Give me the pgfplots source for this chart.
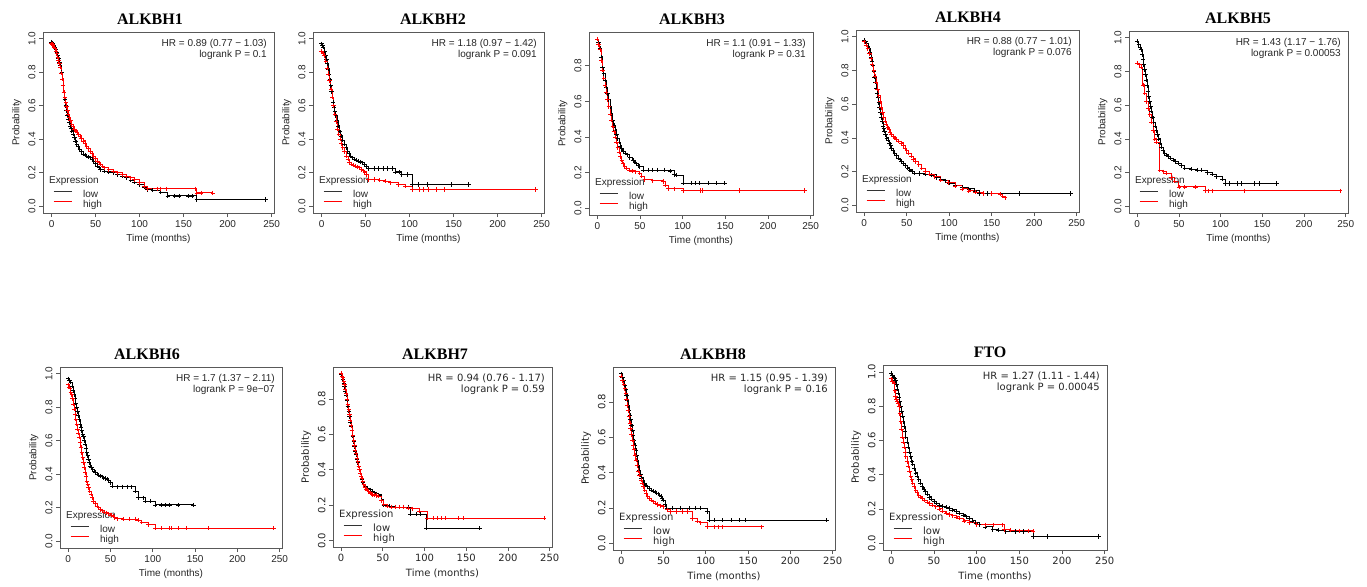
\documentclass[border=0pt]{standalone}
\usepackage{fontspec}
\setmainfont{Liberation Sans}
\newfontfamily\serifb{Liberation Serif}
\newfontfamily\dvs{DejaVu Sans}
\usepackage{pgfplots}
\pgfplotsset{compat=1.18}
\definecolor{kmred}{RGB}{255,0,0}
\pgfplotsset{
  km/.style={
    scale only axis, anchor=south west,
    xmin=-9.72, xmax=252.72, ymin=-0.04, ymax=1.04,
    axis line style={black!65, line width=0.8pt},
    tick style={black!65, line width=0.7pt},
    major tick length=4pt, tick align=outside, tick pos=left,
    xtick={0,50,100,150,200,250},
    ytick={0,0.2,0.4,0.6,0.8,1.0},
    /pgf/number format/assume math mode=true,
    yticklabel style={rotate=90, anchor=south, /pgf/number format/fixed, /pgf/number format/fixed zerofill, /pgf/number format/precision=1},
    ticklabel style={font=\fontsize{10}{11}\selectfont, text=black!85},
    xlabel={Time (months)}, ylabel={Probability},
    label style={font=\fontsize{10}{11}\selectfont, text=black!85},
    title style={font=\serifb\bfseries\fontsize{16}{18}\selectfont, anchor=base, yshift=1.5pt},
    legend style={at={(axis description cs:0,0)}, anchor=south west, xshift=10pt, yshift=3.5pt,
      draw=none, fill=none, inner sep=0pt, column sep=11pt, row sep=1pt,
      font=\fontsize{10}{11}\selectfont, text=black!85,
      nodes={inner sep=0pt, text height=7pt, text depth=2pt}},
    legend cell align=left,
  },
  dv/.style={
    ticklabel style={font=\dvs\fontsize{10}{11}\selectfont},
    label style={font=\dvs\fontsize{10}{11}\selectfont},
    legend style={font=\dvs\fontsize{10}{11}\selectfont},
  },
  lowc/.style={const plot, black, line width=0.9pt, mark=+, mark size=2.1pt, mark options={line width=0.7pt}},
  highc/.style={const plot, kmred, line width=0.9pt, mark=+, mark size=2.1pt, mark options={line width=0.7pt}},
}
\newcommand\kmlegend{%
  \addlegendimage{legend image code/.code={\draw[black!80,line width=0.9pt] (0pt,3pt)--(18pt,3pt);}}
  \addlegendentry{low}
  \addlegendimage{legend image code/.code={\draw[kmred,line width=0.9pt] (0pt,3pt)--(18pt,3pt);}}
  \addlegendentry{high}}
\tikzset{
  hr/.style={anchor=north east, align=right, inner sep=0pt, xshift=-7pt, yshift=-7pt, font=\fontsize{10}{11}\selectfont, text=black!85},
  expr/.style={anchor=west, inner sep=0pt, xshift=6pt, yshift=32pt, font=\fontsize{10}{11}\selectfont, text=black!85},
}
\begin{document}
\begin{tikzpicture}
\useasboundingbox (0pt,0pt) rectangle (1367pt,-586pt);
% ---------------- ALKBH1
\begin{axis}[km, at={(43pt,-213pt)}, width=231pt, height=181pt, title={ALKBH1}, title style={at={(0.463,1)}}]
\kmlegend
\addplot[lowc] coordinates {(0,0.98)(1,0.975)(2,0.97)(3,0.96)(4,0.95)(5,0.935)(6,0.92)(7,0.90)(8,0.88)(9,0.86)(10,0.84)(11.5,0.80)(12.3,0.76)(13,0.72)(14,0.68)(15,0.64)(16,0.60)(17,0.57)(18,0.545)(19,0.52)(20,0.50)(21,0.48)(22,0.465)(23,0.45)(24.5,0.43)(26,0.41)(27.3,0.39)(28.7,0.37)(30,0.355)(32,0.34)(34,0.325)(36,0.31)(38,0.305)(40,0.30)(42,0.295)(44,0.29)(46,0.28)(48,0.27)(50,0.255)(52,0.24)(54,0.23)(55.5,0.22)(60,0.21)(65,0.205)(70,0.20)(75,0.19)(80,0.18)(85,0.17)(90,0.155)(94,0.145)(100,0.13)(105,0.115)(109,0.10)(115,0.095)(124,0.085)(132,0.062)(140,0.062)(145,0.062)(155,0.062)(160,0.062)(165,0.04)(243,0.04)};
\addplot[highc] coordinates {(0,0.97)(1,0.965)(2,0.96)(3,0.95)(4,0.94)(5,0.925)(6,0.91)(7,0.89)(8,0.87)(9,0.85)(10,0.83)(11,0.795)(12,0.76)(13,0.72)(14,0.68)(15,0.65)(16,0.62)(17,0.595)(18,0.57)(19,0.55)(20,0.53)(21.5,0.51)(23,0.49)(24.5,0.475)(26,0.46)(27.5,0.45)(29,0.44)(30.7,0.43)(32.5,0.42)(34,0.405)(36,0.39)(38,0.375)(40,0.36)(42,0.345)(44,0.33)(46,0.315)(48,0.30)(50,0.285)(52,0.27)(54,0.26)(55.5,0.25)(58,0.24)(60,0.23)(65,0.22)(70,0.21)(75,0.20)(80,0.19)(85,0.18)(90,0.17)(94,0.16)(100,0.14)(105,0.12)(109,0.105)(120,0.105)(124,0.105)(130,0.105)(163,0.105)(165,0.08)(170,0.08)(183,0.08)};
\node[hr] at (rel axis cs:1,1) {HR = 0.89 (0.77 − 1.03)\\logrank P = 0.1};
\node[expr] at (rel axis cs:0,0) {Expression};
\end{axis}
% ---------------- ALKBH2
\begin{axis}[km, at={(313pt,-213pt)}, width=231pt, height=181pt, title={ALKBH2}, title style={at={(0.519,1)}}]
\kmlegend
\addplot[lowc] coordinates {(0,0.97)(1,0.96)(2,0.95)(3.3,0.925)(4.6,0.90)(5.5,0.875)(6.5,0.85)(7.5,0.82)(8.5,0.79)(9.5,0.755)(10.5,0.72)(11.4,0.685)(12.3,0.65)(13.2,0.62)(14,0.59)(15,0.565)(16,0.54)(17.5,0.51)(19,0.48)(20.5,0.45)(22,0.42)(24,0.395)(26,0.37)(28,0.35)(29.7,0.33)(31.3,0.315)(33,0.30)(35,0.29)(37,0.28)(39.5,0.275)(42,0.27)(44,0.265)(46,0.26)(49,0.25)(51,0.24)(53,0.225)(60,0.225)(65,0.225)(70,0.225)(75,0.225)(80,0.225)(83.6,0.205)(88,0.205)(91,0.19)(97,0.19)(103,0.13)(110,0.13)(120,0.13)(147,0.13)(167,0.13)};
\addplot[highc] coordinates {(0,0.925)(1.5,0.915)(3,0.90)(4.7,0.865)(6.5,0.825)(7.7,0.79)(9,0.75)(10.6,0.70)(12.3,0.65)(13.6,0.60)(15,0.55)(16.5,0.505)(18,0.46)(19.5,0.43)(21,0.40)(22.5,0.375)(24,0.35)(26,0.325)(28,0.30)(30,0.28)(31.6,0.26)(34,0.25)(36,0.245)(38.5,0.24)(41,0.235)(43,0.23)(45,0.22)(47,0.212)(49,0.205)(51,0.19)(53,0.16)(60,0.16)(66,0.155)(72,0.15)(78,0.14)(87,0.13)(95,0.12)(103,0.10)(111,0.10)(116,0.10)(121,0.10)(130,0.10)(140,0.10)(243,0.10)};
\node[hr] at (rel axis cs:1,1) {HR = 1.18 (0.97 − 1.42)\\logrank P = 0.091};
\node[expr] at (rel axis cs:0,0) {Expression};
\end{axis}
% ---------------- ALKBH3
\begin{axis}[km, at={(589pt,-215pt)}, width=224pt, height=183pt, ymin=-0.038, ymax=0.99, title={ALKBH3}, title style={at={(0.46,1)}}]
\kmlegend
\addplot[lowc] coordinates {(0,0.95)(1.5,0.93)(3,0.90)(4.5,0.85)(6,0.79)(7.5,0.755)(9,0.72)(10.5,0.68)(12,0.645)(13.5,0.61)(15,0.57)(16.5,0.53)(18,0.495)(19.5,0.465)(21,0.44)(22.5,0.415)(24,0.39)(25.5,0.37)(27,0.35)(28.5,0.335)(30,0.32)(32.5,0.31)(35,0.30)(38,0.285)(41.7,0.27)(44,0.26)(46,0.25)(48,0.24)(49.6,0.234)(53.6,0.215)(60,0.215)(65,0.215)(70,0.215)(78,0.215)(85,0.21)(90,0.19)(93,0.185)(101,0.14)(110,0.14)(115,0.14)(120,0.14)(130,0.14)(140,0.14)(149,0.14)};
\addplot[highc] coordinates {(0,0.95)(1.5,0.92)(3,0.89)(4.5,0.83)(6,0.775)(7.5,0.73)(9,0.69)(10.5,0.65)(12,0.61)(13.5,0.57)(15,0.53)(16.5,0.495)(18,0.46)(19.5,0.43)(21,0.40)(22.5,0.37)(24,0.34)(25.5,0.315)(27,0.29)(28.5,0.27)(30,0.25)(32,0.235)(34,0.225)(37.7,0.215)(41,0.21)(44,0.205)(49.6,0.196)(52,0.18)(55.5,0.16)(65,0.155)(77,0.15)(80,0.13)(83,0.11)(90,0.11)(101,0.10)(121,0.10)(123,0.10)(166,0.10)(243,0.10)};
\node[hr] at (rel axis cs:1,1) {HR = 1.1 (0.91 − 1.33)\\logrank P = 0.31};
\node[expr] at (rel axis cs:0,0) {Expression};
\end{axis}
% ---------------- ALKBH4
\begin{axis}[km, at={(856pt,-212pt)}, width=223pt, height=182pt, title={ALKBH4}, title style={at={(0.502,1)}}]
\kmlegend
\addplot[lowc] coordinates {(0,0.98)(1.5,0.97)(3,0.96)(4.5,0.945)(6,0.93)(7,0.905)(8,0.88)(9,0.855)(10,0.83)(11,0.795)(12,0.76)(13,0.73)(14,0.695)(15,0.665)(16,0.64)(17,0.61)(17.9,0.58)(19,0.55)(20,0.52)(21,0.495)(22,0.47)(23,0.455)(23.8,0.44)(25,0.42)(26.5,0.40)(28,0.385)(29.8,0.37)(31,0.355)(32,0.34)(34,0.325)(35.7,0.31)(38,0.295)(40,0.28)(42,0.27)(43.7,0.26)(46,0.247)(48,0.235)(51,0.222)(53.6,0.21)(56,0.20)(59.5,0.19)(65,0.188)(72,0.185)(79,0.18)(85,0.165)(90,0.155)(95,0.145)(100,0.13)(107,0.116)(115,0.105)(123,0.097)(130,0.085)(135,0.07)(145,0.07)(182,0.07)(243,0.07)};
\addplot[highc] coordinates {(0,0.97)(2,0.95)(4,0.93)(6,0.90)(8,0.87)(9.5,0.835)(11,0.80)(12.5,0.765)(14,0.73)(15.5,0.69)(17,0.65)(18.5,0.615)(20,0.58)(21.5,0.55)(23,0.52)(24.5,0.50)(26,0.48)(27.5,0.465)(29,0.45)(30.5,0.435)(32,0.42)(34,0.41)(36,0.40)(38,0.39)(40,0.38)(43.7,0.37)(46,0.355)(48,0.34)(50,0.325)(52,0.31)(55.5,0.29)(58,0.275)(60,0.26)(64,0.24)(67.5,0.22)(72,0.20)(77,0.185)(83,0.17)(90,0.15)(99,0.135)(107,0.115)(115,0.097)(123,0.085)(131,0.077)(140,0.07)(150,0.07)(160,0.065)(163,0.055)(166,0.045)};
\node[hr] at (rel axis cs:1,1) {HR = 0.88 (0.77 − 1.01)\\logrank P = 0.076};
\node[expr] at (rel axis cs:0,0) {Expression};
\end{axis}
% ---------------- ALKBH5
\begin{axis}[km, at={(1129pt,-213pt)}, width=219pt, height=182pt, title={ALKBH5}, title style={at={(0.498,1)}}]
\kmlegend
\addplot[lowc] coordinates {(0,0.98)(2,0.96)(3.5,0.945)(4.8,0.93)(6,0.90)(7,0.87)(8,0.84)(8.9,0.81)(10,0.78)(11,0.75)(12,0.715)(13,0.68)(14,0.65)(15,0.62)(16,0.59)(17,0.565)(18.5,0.53)(20,0.50)(21.5,0.475)(23,0.45)(24.5,0.425)(26,0.40)(27.5,0.375)(29,0.35)(31,0.33)(33,0.315)(35,0.305)(37,0.295)(40,0.285)(43,0.275)(46,0.265)(49,0.255)(53,0.24)(57,0.225)(65,0.22)(72,0.215)(77.5,0.215)(84,0.20)(89.7,0.19)(95,0.175)(102,0.16)(106,0.135)(110,0.135)(120,0.135)(125,0.135)(140,0.135)(147,0.135)(167,0.135)};
\addplot[highc] coordinates {(0,0.85)(3,0.84)(4.8,0.825)(6.9,0.72)(9,0.67)(11,0.62)(13,0.58)(15,0.545)(17,0.50)(19,0.45)(21,0.40)(23,0.38)(27,0.215)(32,0.205)(35,0.195)(41,0.17)(45,0.15)(50,0.115)(57,0.115)(70,0.115)(81.6,0.092)(85,0.092)(90,0.092)(129,0.092)(243,0.092)};
\node[hr] at (rel axis cs:1,1) {HR = 1.43 (1.17 − 1.76)\\logrank P = 0.00053};
\node[expr] at (rel axis cs:0,0) {Expression};
\end{axis}
% ---------------- ALKBH6
\begin{axis}[km, at={(60pt,-548pt)}, width=222pt, height=181pt, title={ALKBH6}, title style={at={(0.392,1)}}]
\kmlegend
\addplot[lowc] coordinates {(0,0.97)(1.5,0.96)(3,0.95)(4.5,0.925)(6,0.90)(7,0.875)(8,0.85)(9,0.825)(10,0.80)(11,0.775)(12,0.75)(13,0.725)(14,0.70)(15,0.68)(16,0.66)(17,0.64)(18,0.625)(19,0.60)(20,0.58)(21,0.555)(22,0.53)(23,0.51)(24,0.49)(25,0.47)(26,0.45)(27.5,0.44)(29,0.43)(30.5,0.42)(32,0.41)(34,0.40)(36,0.395)(38,0.39)(40,0.385)(42,0.38)(44,0.375)(46,0.37)(48,0.365)(50,0.35)(52,0.33)(58,0.325)(64,0.325)(70,0.325)(75,0.325)(79,0.30)(83,0.26)(89,0.26)(91,0.24)(97,0.24)(103,0.217)(110,0.217)(115,0.217)(120,0.217)(130,0.217)(148,0.217)};
\addplot[highc] coordinates {(0,0.935)(1,0.92)(2,0.91)(3,0.89)(4,0.875)(5,0.85)(6,0.82)(7,0.79)(8,0.76)(9,0.73)(10,0.70)(11,0.67)(12,0.645)(13,0.62)(14,0.59)(15,0.56)(16,0.53)(17,0.50)(18,0.47)(19,0.44)(20,0.41)(21,0.385)(22,0.36)(23,0.34)(24,0.32)(25.5,0.30)(27,0.28)(28.5,0.26)(30,0.24)(32,0.225)(34,0.21)(36,0.20)(38,0.19)(40.5,0.182)(43,0.175)(45.5,0.17)(48,0.165)(50.5,0.157)(53,0.15)(55,0.142)(57.5,0.135)(65,0.133)(72,0.133)(79,0.133)(83,0.125)(87,0.115)(95,0.10)(103,0.077)(110,0.077)(120,0.077)(122,0.077)(130,0.077)(140,0.077)(166,0.077)(243,0.077)};
\node[hr] at (rel axis cs:1,1) {HR = 1.7 (1.37 − 2.11)\\logrank P = 9e−07};
\node[expr] at (rel axis cs:0,0) {Expression};
\end{axis}
% ---------------- ALKBH7
\begin{axis}[km, dv, at={(333pt,-547pt)}, width=219pt, height=180pt, ymin=-0.036, ymax=0.98, title={ALKBH7}, title style={at={(0.466,1)}}]
\kmlegend
\addplot[lowc] coordinates {(0,0.94)(1,0.925)(2,0.91)(3,0.89)(4,0.87)(5,0.845)(6,0.82)(7,0.79)(8,0.76)(9,0.73)(10,0.70)(11,0.67)(12,0.645)(13,0.62)(14,0.59)(15,0.56)(16,0.53)(17,0.505)(18,0.485)(19,0.46)(20,0.44)(21,0.42)(22,0.40)(23,0.38)(24,0.36)(25,0.345)(26,0.33)(27,0.315)(28.5,0.305)(31,0.295)(34.5,0.287)(37,0.28)(40,0.27)(42.5,0.265)(45,0.258)(48,0.23)(51,0.20)(58,0.195)(65,0.19)(75,0.19)(81,0.19)(83,0.15)(90,0.15)(95,0.15)(102,0.07)(166,0.07)};
\addplot[highc] coordinates {(0,0.945)(1,0.93)(2,0.92)(3,0.90)(4,0.88)(5,0.855)(6,0.83)(7,0.80)(8,0.77)(9,0.74)(10,0.71)(11,0.68)(12,0.65)(13,0.62)(14,0.595)(15,0.565)(16,0.535)(17,0.51)(18,0.49)(19,0.465)(20,0.445)(21,0.42)(22,0.40)(23,0.38)(24,0.365)(25,0.35)(26,0.335)(27,0.315)(28.5,0.30)(30,0.29)(31,0.285)(33,0.277)(34.5,0.27)(36,0.265)(38,0.26)(40,0.258)(42,0.255)(45,0.25)(48,0.225)(51,0.205)(55,0.195)(60,0.19)(65,0.19)(70,0.19)(75,0.19)(80,0.185)(85,0.18)(93.5,0.165)(103.6,0.126)(110,0.126)(115,0.126)(120,0.126)(125,0.126)(140,0.126)(147,0.126)(243,0.126)};
\node[hr, font=\dvs\fontsize{10}{11}\selectfont] at (rel axis cs:1,1) {HR = 0.94 (0.76 - 1.17)\\logrank P = 0.59};
\node[expr, font=\dvs\fontsize{10}{11}\selectfont] at (rel axis cs:0,0) {Expression};
\end{axis}
% ---------------- ALKBH8
\begin{axis}[km, dv, at={(613pt,-550pt)}, width=222pt, height=183pt, ymin=-0.038, ymax=0.998, title={ALKBH8}, title style={at={(0.45,1)}}]
\kmlegend
\addplot[lowc] coordinates {(0,0.96)(1.5,0.94)(3,0.92)(4.2,0.895)(5.3,0.87)(6.2,0.84)(7,0.81)(8.2,0.78)(9.3,0.75)(10.2,0.725)(11,0.70)(12.2,0.67)(13.3,0.64)(14.2,0.61)(15,0.58)(16.2,0.555)(17.4,0.527)(18.2,0.50)(19,0.47)(20.2,0.44)(21.4,0.414)(22.7,0.39)(24,0.37)(25.7,0.355)(27.5,0.339)(29.2,0.33)(31,0.32)(33.3,0.31)(35.6,0.30)(38,0.295)(40,0.29)(42,0.285)(43.7,0.28)(45.5,0.272)(47,0.265)(48.5,0.255)(49.8,0.245)(51.8,0.22)(53.8,0.20)(60,0.20)(70,0.20)(80,0.20)(88,0.20)(94,0.20)(102,0.18)(104,0.13)(110,0.13)(120,0.13)(130,0.13)(140,0.13)(147,0.13)(243,0.13)};
\addplot[highc] coordinates {(0,0.945)(1.5,0.92)(3,0.90)(4.2,0.875)(5.3,0.85)(6.2,0.815)(7,0.78)(8.2,0.75)(9.3,0.716)(10.2,0.68)(11,0.65)(12.2,0.615)(13.3,0.584)(14.2,0.555)(15,0.53)(16.2,0.50)(17.4,0.47)(18.7,0.44)(20,0.41)(21.7,0.385)(23.5,0.358)(24.7,0.34)(26,0.32)(27.7,0.30)(29.5,0.28)(31.2,0.265)(33,0.255)(35.3,0.245)(37.6,0.235)(40.3,0.228)(43,0.22)(46.4,0.213)(49.8,0.207)(54,0.19)(57.8,0.18)(65,0.18)(72,0.18)(78,0.18)(84,0.14)(90,0.125)(94,0.117)(102,0.094)(110,0.094)(115,0.094)(120,0.094)(166,0.094)};
\node[hr, font=\dvs\fontsize{10}{11}\selectfont] at (rel axis cs:1,1) {HR = 1.15 (0.95 - 1.39)\\logrank P = 0.16};
\node[expr, font=\dvs\fontsize{10}{11}\selectfont] at (rel axis cs:0,0) {Expression};
\end{axis}
% ---------------- FTO
\begin{axis}[km, dv, at={(883pt,-550pt)}, width=224pt, height=185pt, title={FTO}, title style={at={(0.478,1)}}]
\kmlegend
\addplot[lowc] coordinates {(0,0.99)(1.5,0.98)(3,0.97)(4,0.96)(5,0.95)(6,0.925)(7,0.90)(8,0.875)(9,0.85)(10,0.825)(11,0.80)(12,0.77)(13,0.74)(14,0.71)(15,0.68)(16,0.65)(17,0.62)(18.5,0.59)(20,0.56)(21.3,0.53)(22.7,0.505)(24,0.48)(25,0.46)(26.8,0.435)(28.6,0.41)(30.3,0.39)(32,0.37)(34.2,0.35)(36.4,0.33)(38.2,0.315)(40,0.30)(42,0.285)(44.3,0.27)(47,0.257)(50,0.245)(53,0.233)(56,0.223)(60,0.215)(64,0.21)(68,0.202)(71.7,0.194)(76,0.185)(80,0.175)(84,0.165)(87.4,0.155)(91,0.143)(95,0.13)(99,0.118)(103,0.107)(110,0.095)(118.7,0.078)(125,0.075)(134,0.068)(145,0.068)(155,0.068)(166,0.039)(183,0.039)(243,0.039)};
\addplot[highc] coordinates {(0,0.96)(1.5,0.945)(3,0.93)(4,0.89)(5,0.855)(6,0.84)(7,0.83)(8,0.815)(9,0.80)(10,0.755)(11,0.71)(12,0.665)(13,0.62)(14,0.59)(15,0.56)(16,0.53)(17,0.505)(18.5,0.475)(20,0.45)(21.3,0.42)(22.7,0.39)(24,0.37)(25,0.35)(26.8,0.33)(28.6,0.31)(30.3,0.295)(32,0.28)(34.2,0.27)(36.4,0.26)(39,0.25)(42,0.24)(45,0.232)(48,0.223)(52,0.212)(56,0.20)(60,0.188)(64,0.175)(68,0.167)(72,0.16)(76,0.153)(79.5,0.146)(85,0.13)(91,0.12)(100,0.107)(110,0.107)(120,0.107)(130,0.107)(132,0.078)(140,0.075)(150,0.072)(160,0.072)(166,0.07)};
\node[hr, font=\dvs\fontsize{10}{11}\selectfont] at (rel axis cs:1,1) {HR = 1.27 (1.11 - 1.44)\\logrank P = 0.00045};
\node[expr, font=\dvs\fontsize{10}{11}\selectfont] at (rel axis cs:0,0) {Expression};
\end{axis}
\end{tikzpicture}
\end{document}
